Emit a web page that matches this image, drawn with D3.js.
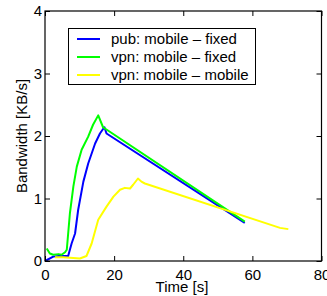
<!DOCTYPE html>
<html lang="en">
<head>
<meta charset="utf-8">
<title>Bandwidth</title>
<script src="https://cdn.jsdelivr.net/npm/d3@7"></script>
<style>
  body { margin: 0; background: #fff; }
  text { font-family: "Liberation Sans", Arial, sans-serif; }
</style>
</head>
<body>
<script>
var seriesNames = ["pub: mobile \u2013 fixed", "vpn: mobile \u2013 fixed", "vpn: mobile \u2013 mobile"];
var seriesColors = ["#0000ff", "#00ff00", "#ffff00"];

var pubFixed = [
  [0, 0], [2.4, 0.07], [4, 0.08], [6.7, 0.08], [7.7, 0.28], [8.7, 0.44], [9.6, 0.82],
  [11.1, 1.27], [12.5, 1.56], [14.5, 1.88], [15.9, 2.04], [16.9, 2.12], [17.2, 2.14],
  [17.8, 2.04], [57.8, 0.61]
];
var vpnFixed = [
  [0.5, 0.2], [1.4, 0.12], [2.4, 0.1], [3.9, 0.11], [4.8, 0.1], [5.8, 0.14], [6.3, 0.18],
  [7.2, 0.76], [8.2, 1.19], [9.2, 1.51], [10.6, 1.78], [12.5, 1.99], [13.9, 2.18],
  [15.4, 2.33], [16.8, 2.14], [57.8, 0.63]
];
var vpnMobile = [
  [2.9, 0.06], [5.3, 0.06], [10.1, 0.04], [12, 0.08], [13.5, 0.28], [15.4, 0.66],
  [17.8, 0.87], [19.8, 1.03], [21.7, 1.14], [23.1, 1.17], [24.6, 1.16], [25.5, 1.22],
  [26.9, 1.32], [27.9, 1.27], [28.9, 1.24], [68, 0.53], [70.4, 0.51]
];
var allSeries = [pubFixed, vpnFixed, vpnMobile];

var xTicks = [0, 20, 40, 60, 80];
var yTicks = [0, 1, 2, 3, 4];

var plotLeft = 45, plotRight = 321.5, plotTop = 11, plotBottom = 261;
var W = 327, H = 296;
var fontSize = 15;

var svg = d3.select("body").append("svg")
  .attr("width", W).attr("height", H);

var xscale = d3.scaleLinear().domain([0, 80]).range([plotLeft, plotRight]);
var yscale = d3.scaleLinear().domain([0, 4]).range([plotBottom, plotTop]);

// lines
var line = d3.line()
  .x(function(d) { return xscale(d[0]); })
  .y(function(d) { return yscale(d[1]); });

svg.selectAll("path.series")
  .data(allSeries)
  .enter()
  .append("path")
  .attr("class", "series")
  .attr("d", line)
  .attr("fill", "none")
  .attr("stroke", function(d, i) { return seriesColors[i]; })
  .attr("stroke-width", 2)
  .attr("stroke-linejoin", "round");

// axes: a box with inward ticks on all four sides
var xAxis = d3.axisBottom(xscale).tickValues(xTicks).tickFormat(d3.format("d"))
  .tickSizeInner(-5).tickSizeOuter(0).tickPadding(8);
var yAxis = d3.axisLeft(yscale).tickValues(yTicks).tickFormat(d3.format("d"))
  .tickSizeInner(-5).tickSizeOuter(0).tickPadding(3);
var xTop = d3.axisTop(xscale).tickValues(xTicks).tickSizeInner(-5).tickSizeOuter(0).tickFormat("");
var yRight = d3.axisRight(yscale).tickValues(yTicks).tickSizeInner(-5).tickSizeOuter(0).tickFormat("");

svg.append("g").attr("transform", "translate(0," + plotBottom + ")").call(xAxis);
svg.append("g").attr("transform", "translate(" + plotLeft + ",0)").call(yAxis);
svg.append("g").attr("transform", "translate(0," + plotTop + ")").call(xTop);
svg.append("g").attr("transform", "translate(" + plotRight + ",0)").call(yRight);

svg.selectAll(".tick text").attr("font-size", fontSize).attr("fill", "#000")
  .attr("font-family", "'Liberation Sans', Arial, sans-serif");
svg.selectAll(".domain").remove();
svg.selectAll(".tick line").attr("stroke", "#000");

svg.append("rect")
  .attr("x", plotLeft).attr("y", plotTop)
  .attr("width", plotRight - plotLeft).attr("height", plotBottom - plotTop)
  .attr("fill", "none").attr("stroke", "#000").attr("stroke-width", 1.2);

// labels
svg.append("text")
  .attr("x", 182).attr("y", 291.5)
  .attr("text-anchor", "middle").attr("font-size", fontSize)
  .text("Time [s]");

svg.append("text")
  .attr("transform", "translate(27,136) rotate(-90)")
  .attr("text-anchor", "middle").attr("font-size", fontSize)
  .text("Bandwidth [KB/s]");

// legend
var legend = svg.append("g");
legend.append("rect")
  .attr("x", 68.5).attr("y", 28.5).attr("width", 187).attr("height", 56)
  .attr("fill", "#fff").attr("stroke", "#000");

var rows = legend.selectAll("g.row")
  .data(seriesNames)
  .enter()
  .append("g")
  .attr("transform", function(d, i) { return "translate(0," + (39 + i * 18) + ")"; });

rows.append("line")
  .attr("x1", 77).attr("x2", 100)
  .attr("stroke", function(d, i) { return seriesColors[i]; })
  .attr("stroke-width", 2);

rows.append("text")
  .attr("x", 111).attr("dy", "0.35em")
  .attr("font-size", fontSize)
  .text(function(d) { return d; });
</script>
</body>
</html>
